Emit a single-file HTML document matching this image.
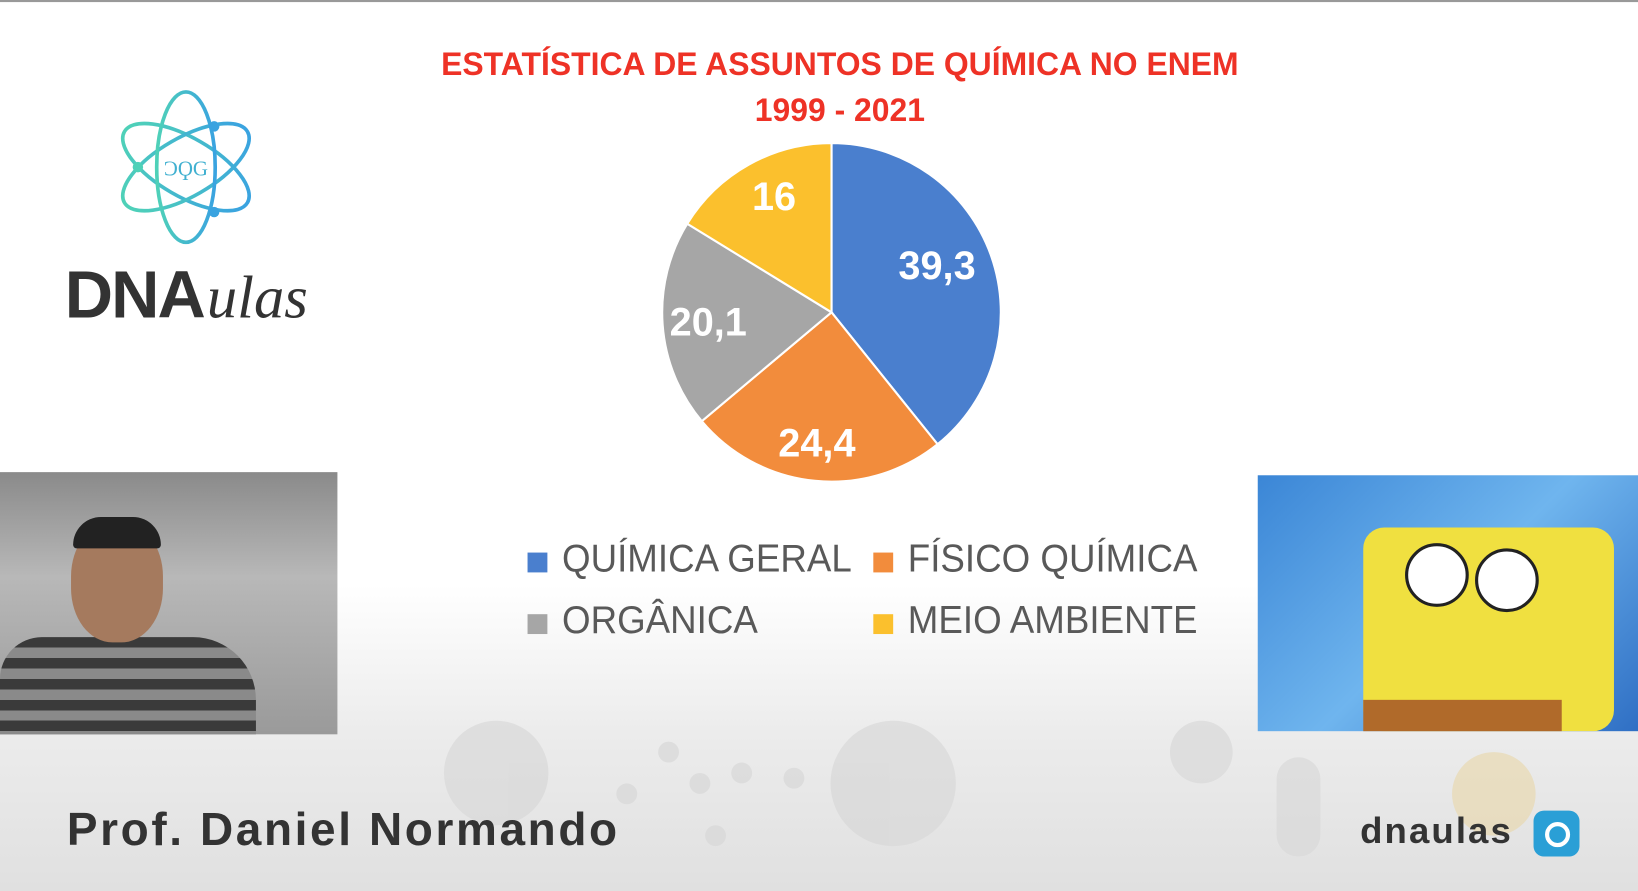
<!DOCTYPE html>
<html><head><meta charset="utf-8"><style>
html,body{margin:0;padding:0;width:1638px;height:891px;overflow:hidden;background:#fff}
#c{position:absolute;left:0;top:0;width:1568px;height:853px;transform:scale(1.04464,1.04455);transform-origin:0 0;
background:linear-gradient(to bottom,#fff 0,#fff 560px,#ececec 700px,#e0e0e0 853px);font-family:"Liberation Sans",sans-serif;overflow:hidden}
.t{position:absolute;left:0;width:1608px;text-align:center;color:#ee3226;font-weight:bold;font-size:31px;transform:scaleX(0.985);transform-origin:804px 0}
.lg{position:absolute;font-size:37px;color:#595959;transform:scaleX(0.95);transform-origin:0 0;white-space:nowrap}
.sq{position:absolute;width:19px;height:19px}
</style></head><body><div id="c">
<div style="position:absolute;left:0;top:0;width:1568px;height:2px;background:#999"></div>
<div class="t" style="top:44px">ESTATÍSTICA DE ASSUNTOS DE QUÍMICA NO ENEM</div>
<div class="t" style="top:88px">1999 - 2021</div>

<svg style="position:absolute;left:0;top:0" width="1568" height="853">
<defs><linearGradient id="ag" x1="0" x2="1"><stop offset="0" stop-color="#4fd1b8"/><stop offset="1" stop-color="#3aa3e0"/></linearGradient></defs>
<g fill="#d8d8d8" opacity="0.7">
<circle cx="475" cy="740" r="50"/><circle cx="855" cy="750" r="60"/><circle cx="1150" cy="720" r="30"/><circle cx="1430" cy="760" r="40" fill="#e8d8b0"/>
<circle cx="600" cy="760" r="10"/><circle cx="640" cy="720" r="10"/><circle cx="670" cy="750" r="10"/><circle cx="710" cy="740" r="10"/><circle cx="760" cy="745" r="10"/><circle cx="685" cy="800" r="10"/>
<rect x="1222" y="725" width="42" height="95" rx="21"/>
</g>
<g fill="none" stroke="url(#ag)" stroke-width="3.5">
<ellipse cx="178" cy="160" rx="68" ry="28" transform="rotate(30 178 160)"/>
<ellipse cx="178" cy="160" rx="68" ry="28" transform="rotate(-30 178 160)"/>
<ellipse cx="178" cy="160" rx="28" ry="72"/>
</g>
<circle cx="205" cy="121" r="5" fill="#3aa3e0"/><circle cx="132" cy="160" r="5" fill="#4fd1b8"/><circle cx="205" cy="203" r="5" fill="#3aa3e0"/>
<text x="178" y="168" text-anchor="middle" font-size="20" fill="#40b0d0" font-family="Liberation Serif">ƆϘG</text>
<text x="62" y="304" font-size="64" font-weight="bold" fill="#333" font-family="Liberation Sans" textLength="135">DNA</text>
<text x="198" y="304" font-size="58" font-style="italic" fill="#333" font-family="Liberation Serif">ulas</text>

<g stroke="#fff" stroke-width="2">
<path d="M796,299 L796,137 A162,162 0 0,1 897.5,425.3 Z" fill="#4a7fce"/>
<path d="M796,299 L897.5,425.3 A162,162 0 0,1 671.8,403.2 Z" fill="#f28c3c"/>
<path d="M796,299 L671.8,403.2 A162,162 0 0,1 657.9,214.2 Z" fill="#a6a6a6"/>
<path d="M796,299 L657.9,214.2 A162,162 0 0,1 796,137 Z" fill="#fbc02d"/>
</g>
<g fill="#fff" font-weight="bold" font-size="38" text-anchor="middle" font-family="Liberation Sans">
<text x="897" y="267">39,3</text>
<text x="782" y="437">24,4</text>
<text x="678" y="321">20,1</text>
<text x="741" y="201">16</text>
</g>
</svg>

<div class="sq" style="left:505px;top:529px;background:#4a7fce"></div>
<div class="lg" style="left:538px;top:514px">QUÍMICA GERAL</div>
<div class="sq" style="left:836px;top:529px;background:#f28c3c"></div>
<div class="lg" style="left:869px;top:514px">FÍSICO QUÍMICA</div>
<div class="sq" style="left:505px;top:588px;background:#a6a6a6"></div>
<div class="lg" style="left:538px;top:573px">ORGÂNICA</div>
<div class="sq" style="left:836px;top:588px;background:#fbc02d"></div>
<div class="lg" style="left:869px;top:573px">MEIO AMBIENTE</div>

<div style="position:absolute;left:0;top:452px;width:323px;height:251px;background:linear-gradient(to bottom,#8a8a8a,#b8b8b8 40%,#9a9a9a)"></div>
<div style="position:absolute;left:0;top:610px;width:245px;height:93px;background:repeating-linear-gradient(to bottom,#3a3a3a 0 10px,#8a8a8a 10px 20px);border-radius:40px 60px 0 0"></div>
<div style="position:absolute;left:68px;top:500px;width:88px;height:115px;background:#a57a5e;border-radius:45%"></div>
<div style="position:absolute;left:70px;top:495px;width:84px;height:30px;background:#222;border-radius:40px 40px 5px 5px"></div>

<div style="position:absolute;left:1204px;top:455px;width:364px;height:245px;background:linear-gradient(135deg,#3b86d6,#6fb5ee 50%,#2f6fc4)"></div>
<div style="position:absolute;left:1305px;top:505px;width:240px;height:195px;background:#f0e040;border-radius:20px"></div>
<div style="position:absolute;left:1345px;top:520px;width:55px;height:55px;background:#fff;border:3px solid #222;border-radius:50%"></div>
<div style="position:absolute;left:1412px;top:525px;width:55px;height:55px;background:#fff;border:3px solid #222;border-radius:50%"></div>
<div style="position:absolute;left:1305px;top:670px;width:190px;height:30px;background:#b06a2a"></div>

<div style="position:absolute;left:64px;top:770px;font-size:44px;font-weight:bold;color:#333;white-space:nowrap;letter-spacing:2.5px">Prof. Daniel Normando</div>
<div style="position:absolute;left:1302px;top:776px;font-size:35px;font-weight:bold;color:#333;letter-spacing:2px">dnaulas</div>
<div style="position:absolute;left:1468px;top:776px;width:44px;height:44px;background:#2a9fd6;border-radius:10px"></div>
<div style="position:absolute;left:1479px;top:787px;width:16px;height:16px;border:4px solid #fff;border-radius:50%"></div>
</div></body></html>
